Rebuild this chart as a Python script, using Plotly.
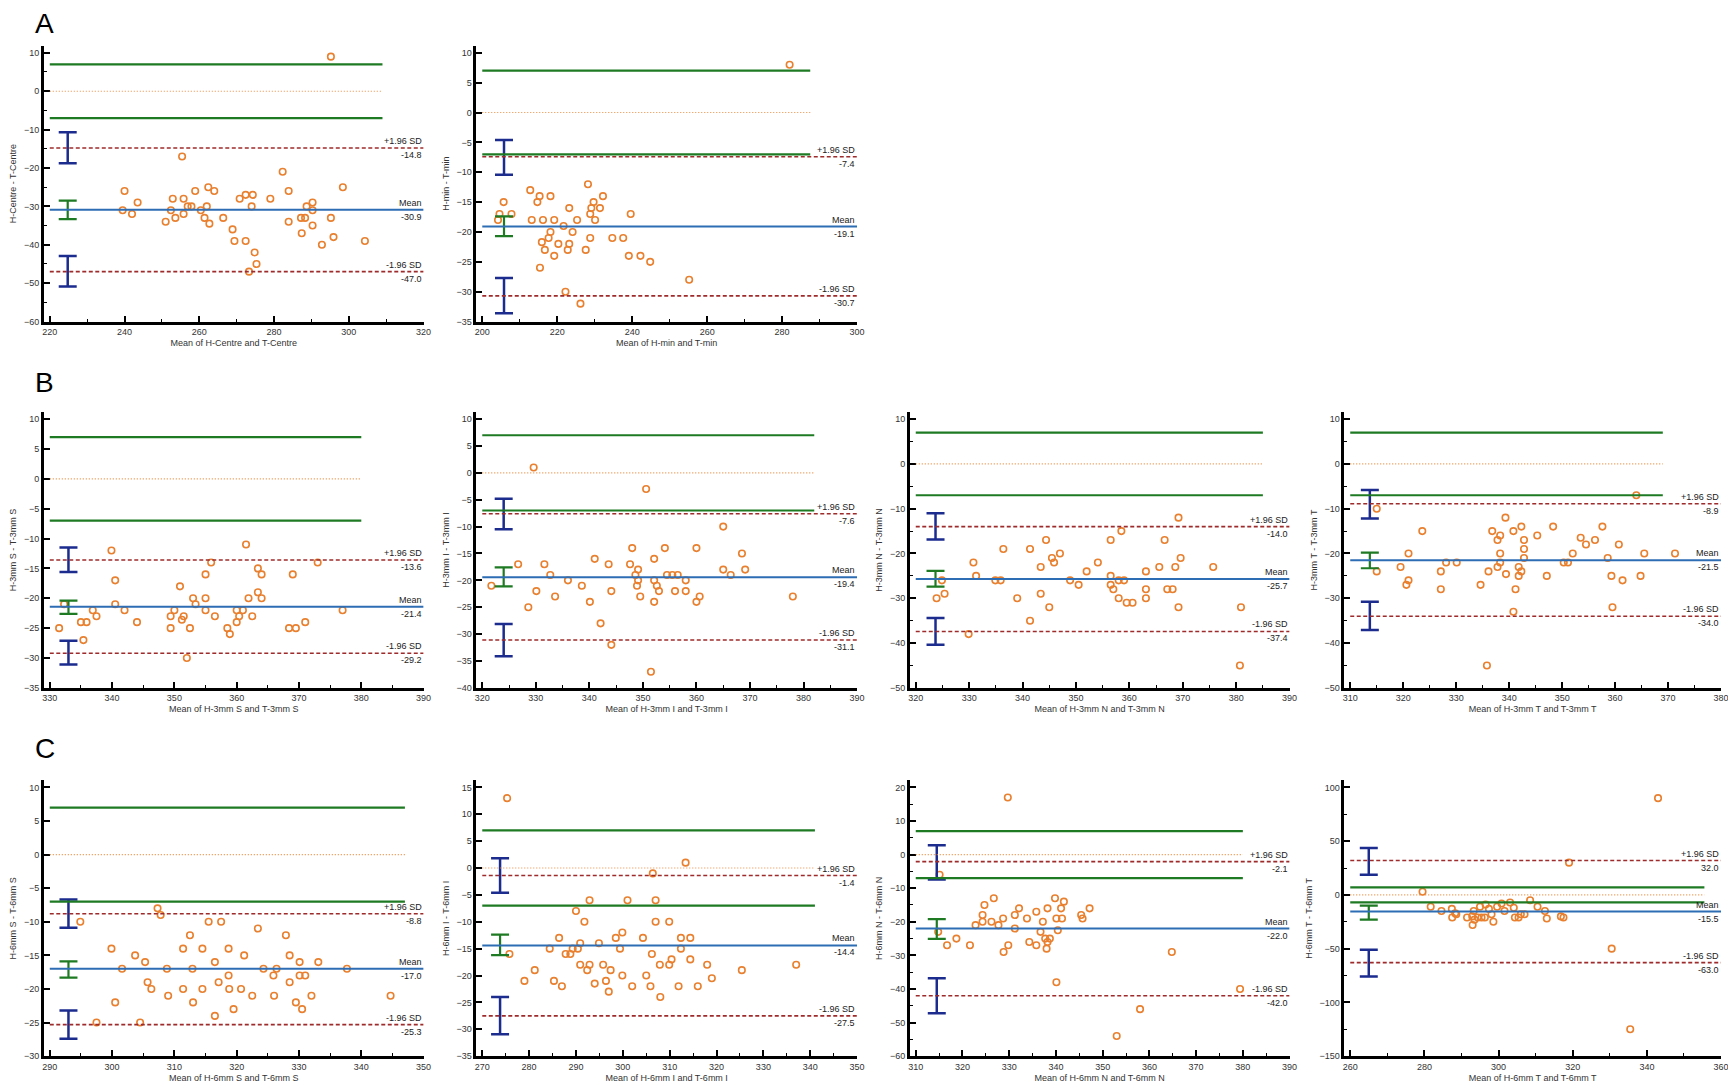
import plotly.graph_objects as go

# ---------------- data ----------------
names = ["Centre", "min", "3mm S", "3mm I", "3mm N", "3mm T",
         "6mm S", "6mm I", "6mm N", "6mm T"]
panel_letters = ["A", "B", "C"]

a1_mean = [295.2, 239.5, 240.0, 242.0, 243.5, 251.0, 252.4, 252.9, 253.6, 255.4,
           255.8, 255.8, 256.9, 257.9, 258.9, 260.4, 261.4, 262.0, 262.4, 262.7,
           264.0, 266.4, 268.9, 269.4, 270.8, 272.4, 272.4, 274.0, 274.3, 274.8,
           275.3, 273.3, 279.0, 282.3, 283.9, 283.9, 287.2, 288.3, 287.4, 288.7,
           290.3, 290.3, 290.3, 292.8, 295.2, 295.9, 298.4, 304.3]
a1_diff = [9, -31, -26, -32, -29, -34, -31, -28, -33, -17,
           -28, -32, -30, -30, -26, -31, -33, -30, -25, -34.5,
           -26, -33, -36, -39, -28, -27, -39, -30, -27, -42,
           -45, -47, -28, -21, -26, -34, -33, -33, -37, -30,
           -29, -31, -35, -40, -33, -38, -25, -39]

a2_mean = [282, 204.2, 204.6, 205.7, 207.8, 212.8, 213.2, 214.7, 215.3, 215.9,
           216.2, 216.7, 215.4, 217.7, 218.2, 218.2, 219.2, 219.2, 220.3, 221.7,
           222.2, 222.8, 223.2, 223.2, 224.1, 225.3, 226.2, 227.6, 228.2, 228.8,
           229.1, 228.8, 229.7, 230.1, 231.4, 232.2, 234.7, 237.6, 239.1, 239.6,
           242.2, 244.8, 255.2]
a2_diff = [8, -18, -17, -15, -17, -13, -18, -15, -14, -21.7,
           -18, -23, -26, -21, -20, -14, -18, -24, -22, -19,
           -30, -23, -16, -22, -20, -18, -32, -23, -12, -17,
           -16, -21, -15, -18, -16, -14, -21, -21, -24, -17,
           -24, -25, -28]

b1_mean = [331.5, 332.3, 335.0, 335.9, 335.4, 336.9, 337.5, 339.9, 340.5, 340.5,
           342.0, 344.0, 349.4, 349.4, 350.0, 350.9, 351.2, 351.5, 352.0, 352.5,
           353.0, 353.4, 355.0, 355.0, 355.0, 355.9, 356.5, 358.5, 358.9, 360.0,
           360.0, 360.4, 361.0, 361.5, 361.9, 362.5, 363.4, 363.4, 364.0, 364.0,
           368.4, 369.5, 369.0, 371.0, 373.0, 377.0]
b1_diff = [-25, -21, -24, -24, -27, -22, -23, -12, -17, -21,
           -22, -24, -23, -25, -22, -18, -23.6, -23, -30, -25,
           -20, -21, -16, -20, -22, -14, -23, -25, -26, -22,
           -24, -23, -22, -11, -20, -23, -15, -19, -16, -20,
           -25, -25, -16, -24, -14, -22]

b2_mean = [321.7, 326.7, 328.6, 329.6, 330.1, 331.6, 332.7, 333.6, 336.0, 338.6,
           340.1, 341.0, 342.1, 343.6, 344.1, 344.1, 347.6, 348.0, 348.6, 349.1,
           349.1, 348.9, 349.5, 350.6, 352.1, 352.1, 352.1, 352.6, 353.0, 354.1,
           354.5, 355.5, 356.0, 356.5, 358.0, 358.0, 360.0, 360.0, 360.6, 365.0,
           365.0, 366.4, 368.5, 369.1, 378.0, 351.5]
b2_diff = [-21, -17, -25, 1, -22, -17, -19, -23, -20, -21,
           -24, -16, -28, -17, -22, -32, -17, -14, -19, -18,
           -20, -21, -23, -3, -16, -20, -24, -21, -22, -14,
           -19, -19, -22, -19, -20, -22, -14, -24, -23, -10,
           -18, -19, -15, -18, -23, -37]

b3_mean = [323.9, 324.9, 325.4, 329.9, 330.8, 331.3, 334.9, 335.9, 336.4, 339.0,
           341.4, 341.4, 343.4, 343.4, 344.4, 345.0, 345.5, 345.9, 347.0, 348.9,
           350.5, 352.0, 354.1, 356.5, 356.5, 356.5, 357.0, 358.0, 358.0, 358.5,
           359.0, 359.5, 360.6, 363.1, 363.1, 363.1, 365.6, 366.6, 367.1, 368.1,
           368.6, 369.2, 369.2, 369.6, 375.7, 380.9, 380.7]
b3_diff = [-30, -26, -29, -38, -22, -25, -26, -26, -19, -30,
           -19, -35, -23, -29, -17, -32, -21, -22, -20, -26,
           -27, -24, -22, -17, -25, -27, -28, -26, -30, -15,
           -26, -31, -31, -24, -28, -30, -23, -17, -28, -28,
           -23, -12, -32, -21, -23, -32, -45]

b4_mean = [315.0, 315.0, 319.5, 321.0, 321.0, 320.6, 323.6, 327.1, 327.1, 328.1,
           330.1, 334.6, 336.1, 336.8, 337.8, 337.8, 338.3, 338.3, 338.3, 339.3,
           339.4, 340.8, 340.8, 341.2, 341.8, 341.8, 342.3, 342.3, 342.8, 342.8,
           342.8, 345.3, 347.1, 348.3, 350.3, 351.1, 335.8, 352.0, 353.5, 354.5,
           356.2, 357.6, 358.6, 359.3, 359.5, 360.7, 361.4, 364.0, 364.8, 365.5,
           371.3]
b4_diff = [-10, -24, -23, -20, -26, -27, -15, -24, -28, -22,
           -22, -27, -24, -15, -17, -23, -16, -20, -22, -12,
           -24.6, -15, -33, -28, -23, -25, -14, -24, -17, -19,
           -21, -16, -25, -14, -22, -22, -45, -20, -16.5, -18,
           -17, -14, -21, -25, -32, -18, -26, -7, -25, -20,
           -20]

c1_mean = [294.9, 299.9, 301.6, 303.7, 305.3, 305.7, 306.3, 307.3, 307.8, 308.8,
           311.4, 311.4, 312.5, 312.9, 314.5, 314.5, 315.5, 316.5, 317.1, 317.5,
           318.7, 318.7, 318.8, 320.7, 321.2, 323.4, 324.3, 325.9, 326.4, 327.9,
           328.5, 328.5, 330.1, 330.1, 331.0, 333.1, 337.7, 344.7, 297.5, 300.5,
           304.5, 309.0, 313.0, 316.5, 319.5, 322.5, 326.0, 329.5, 330.5, 332.0]
c1_diff = [-10, -14, -17, -15, -16, -19, -20, -8, -9, -17,
           -14, -20, -12, -17, -14, -20, -10, -16, -19, -10,
           -14, -18, -20, -20, -15, -11, -17, -18, -17, -12,
           -15, -19, -16, -18, -18, -16, -17, -21, -25, -22,
           -25, -21, -22, -24, -23, -21, -21, -22, -23, -21]

c2_mean = [275.3, 275.8, 281.2, 284.4, 285.3, 286.4, 287.8, 288.8, 289.3, 290.0,
           290.4, 290.9, 290.9, 291.8, 292.4, 292.9, 292.9, 294.9, 295.8, 296.4,
           297.4, 298.5, 299.4, 299.9, 299.9, 301.0, 304.3, 305.0, 305.9, 306.2,
           306.4, 307.0, 307.0, 307.9, 309.9, 309.9, 310.4, 311.9, 312.4, 312.4,
           313.4, 314.4, 314.4, 318.0, 325.4, 308.0, 279.0, 287.0, 294.0, 297.0,
           302.0, 316.0, 319.0, 337.0]
c2_diff = [13, -16, -19, -15, -21, -13, -16, -16, -15, -8,
           -15, -14, -18, -10, -19, -6, -18, -14, -18, -21,
           -19, -13, -15, -12, -20, -6, -13, -20, -22, -16,
           -1, -6, -10, -18, -10, -18, -17, -22, -13, -15,
           1, -13, -17, -18, -19, -24, -21, -22, -21.5, -23,
           -22, -22, -20.5, -18]

c3_mean = [329.7, 315.1, 314.8, 316.7, 318.7, 321.6, 322.8, 324.3, 324.7, 324.3,
           326.2, 326.7, 327.7, 328.7, 328.8, 329.8, 331.2, 331.2, 332.1, 333.8,
           334.3, 335.8, 335.8, 336.7, 337.2, 337.7, 338.0, 338.2, 338.2, 338.7,
           339.8, 340.1, 340.1, 340.4, 341.1, 341.3, 341.7, 347.2, 345.4, 345.7,
           364.8, 379.4, 358.0, 353.0]
c3_diff = [17, -6, -23, -27, -25, -27, -21, -18, -15, -20,
           -20, -13, -21, -19, -29, -27, -18, -22, -16, -19,
           -26, -17, -27, -23, -20, -25, -28, -26, -16, -25,
           -13, -19, -38, -22.5, -16, -19, -14, -16, -18, -19,
           -29, -40, -46, -54]

c4_mean = [279.5, 281.7, 284.6, 287.4, 287.5, 288.3, 288.6, 291.5, 292.9, 293.0,
           293.3, 293.5, 294.4, 295.0, 295.4, 296.3, 296.5, 297.4, 298.1, 298.6,
           299.6, 300.8, 301.6, 303.1, 304.1, 304.4, 305.4, 306.0, 307.0, 308.5,
           310.5, 312.5, 313.0, 316.8, 317.5, 319.0, 330.5, 335.5, 343.0]
c4_diff = [3, -11, -15, -13, -21, -17, -18, -21, -20, -28,
           -15, -23, -21, -11, -21, -21, -9, -13, -18, -25,
           -11, -8, -15, -7, -12, -21, -21, -18, -18, -5,
           -11, -15, -22, -20, -21, 30, -50, -125, 90]

mean_values = [a1_mean, a2_mean, b1_mean, b2_mean, b3_mean, b4_mean,
               c1_mean, c2_mean, c3_mean, c4_mean]
diff_values = [a1_diff, a2_diff, b1_diff, b2_diff, b3_diff, b4_diff,
               c1_diff, c2_diff, c3_diff, c4_diff]

# Bland-Altman statistics
bias = [-30.9, -19.1, -21.4, -19.4, -25.7, -21.5, -17.0, -14.4, -22.0, -15.5]
upper_loa = [-14.8, -7.4, -13.6, -7.6, -14.0, -8.9, -8.8, -1.4, -2.1, 32.0]
lower_loa = [-47.0, -30.7, -29.2, -31.1, -37.4, -34.0, -25.3, -27.5, -42.0, -63.0]
upper_ci = [(-18.8, -10.7), (-10.4, -4.6), (-15.6, -11.5), (-10.5, -4.8), (-16.9, -11.0),
            (-12.2, -5.8), (-10.9, -6.7), (-4.6, 1.8), (-7.4, 2.8), (18.7, 43.6)]
bias_ci = [(-33.3, -28.5), (-20.7, -17.4), (-22.6, -20.4), (-21.1, -17.6), (-27.4, -23.9),
           (-23.3, -19.8), (-18.3, -15.9), (-16.2, -12.4), (-25.1, -19.2), (-23.0, -10.0)]
lower_ci = [(-50.9, -42.9), (-33.6, -27.7), (-31.1, -27.1), (-34.1, -28.1), (-40.4, -34.4),
            (-37.1, -30.8), (-27.4, -23.2), (-30.9, -24.0), (-47.2, -36.8), (-76.0, -51.1)]
ci_x = [224.8, 205.8, 333.0, 324.0, 323.7, 313.7, 293.0, 273.8, 314.5, 265.0]
agree_limit = 7
agree_end = [309, 287.5, 380, 382, 385, 369, 347, 341, 380, 355.5]

# axes
x_ranges = [(220, 320), (200, 300), (330, 390), (320, 390), (320, 390), (310, 380),
            (290, 350), (270, 350), (310, 390), (260, 360)]
y_ranges = [(-60, 10), (-35, 10), (-35, 10), (-40, 10), (-50, 10), (-50, 10),
            (-30, 10), (-35, 15), (-60, 20), (-150, 100)]
x_dtick = [20, 20, 10, 10, 10, 10, 10, 10, 10, 20]
y_dtick = [10, 5, 5, 5, 10, 10, 5, 5, 10, 50]
panel_row = [0, 0, 1, 1, 1, 1, 2, 2, 2, 2]
panel_col = [0, 1, 0, 1, 2, 3, 0, 1, 2, 3]

# ---------------- figure ----------------
W, H = 1736, 1090
col_px = [(40, 416), (475, 852), (911, 1287), (1348, 1721)]
row_px = [(45, 315), (413, 683), (783, 1053)]
letter_y = [16, 376, 744]
XPAD, YPAD = 6, 7

FONT = "Arial, Liberation Sans, sans-serif"
ORANGE = "#E8802F"
GREEN = "#1F7A24"
BLUE = "#2D6DB4"
RED = "#9E2B2B"
NAVY = "#1B2B8E"

fig = go.Figure()
layout = dict(width=W, height=H, margin=dict(l=0, r=0, t=0, b=0),
              paper_bgcolor="white", plot_bgcolor="white", showlegend=False,
              font=dict(family=FONT, size=9, color="#333333"))
shapes, annotations = [], []

for i in range(10):
    n = "" if i == 0 else str(i + 1)
    xa, ya = "x" + n, "y" + n
    c0, c1 = col_px[panel_col[i]]
    r0, r1 = row_px[panel_row[i]]
    xlo, xhi = x_ranges[i]
    ylo, yhi = y_ranges[i]

    axis_style = dict(showline=True, linecolor="black", linewidth=2.5, showgrid=False,
                      zeroline=False, ticks="inside", ticklen=6, tickwidth=1.5,
                      tickcolor="black", tickfont=dict(size=9, color="#333333"))
    x_minor = dict(ticks="inside", ticklen=3, tickwidth=1, tickcolor="black",
                   dtick=x_dtick[i] / 2, tick0=xlo)
    layout["xaxis" + n] = dict(
        axis_style, anchor=ya,
        domain=[(c0 - XPAD) / W, c1 / W],
        range=[xlo - XPAD * (xhi - xlo) / (c1 - c0), xhi],
        tick0=xlo, dtick=x_dtick[i], minor=x_minor,
        title=dict(text="Mean of H-%s and T-%s" % (names[i], names[i]),
                   font=dict(size=9, color="#333333"), standoff=4))
    yax = dict(
        axis_style, anchor=xa,
        domain=[1 - r1 / H, 1 - (r0 - YPAD) / H],
        range=[ylo, yhi + YPAD * (yhi - ylo) / (r1 - r0)],
        tick0=ylo, dtick=y_dtick[i],
        title=dict(text="H-%s - T-%s" % (names[i], names[i]),
                   font=dict(size=9, color="#333333"), standoff=6))
    if y_dtick[i] in (10, 50):
        yax["minor"] = dict(ticks="inside", ticklen=3, tickwidth=1, tickcolor="black",
                            dtick=y_dtick[i] / 2, tick0=ylo)
    layout["yaxis" + n] = yax

    # clinical agreement limits and zero line
    for yv in (agree_limit, -agree_limit):
        shapes.append(dict(type="line", xref=xa, yref=ya, x0=xlo, x1=agree_end[i],
                           y0=yv, y1=yv, line=dict(color=GREEN, width=2.2)))
    shapes.append(dict(type="line", xref=xa, yref=ya, x0=xlo, x1=agree_end[i],
                       y0=0, y1=0, line=dict(color="#EE8A3C", width=1.1, dash="1px,2px")))
    # bias and limits of agreement
    shapes.append(dict(type="line", xref=xa, yref=ya, x0=xlo, x1=xhi,
                       y0=bias[i], y1=bias[i], line=dict(color=BLUE, width=2)))
    for yv in (upper_loa[i], lower_loa[i]):
        shapes.append(dict(type="line", xref=xa, yref=ya, x0=xlo, x1=xhi,
                           y0=yv, y1=yv, line=dict(color=RED, width=1.6, dash="4px,2.5px")))

    for top, yv in (("+1.96 SD", upper_loa[i]), ("Mean", bias[i]), ("-1.96 SD", lower_loa[i])):
        annotations.append(dict(xref=xa, yref=ya, x=xhi, y=yv, text=top, showarrow=False,
                                xanchor="right", yanchor="bottom", yshift=0,
                                font=dict(size=9, color="#222222")))
        annotations.append(dict(xref=xa, yref=ya, x=xhi, y=yv, text="%.1f" % yv,
                                showarrow=False, xanchor="right", yanchor="top", yshift=0,
                                font=dict(size=9, color="#222222")))

    # data points
    fig.add_trace(go.Scatter(
        x=mean_values[i], y=diff_values[i], mode="markers", xaxis=xa, yaxis=ya,
        marker=dict(symbol="circle-open", size=6.5, color=ORANGE, line=dict(width=1.6))))

    # confidence intervals of limits (blue) and bias (green)
    lims = [upper_loa[i], lower_loa[i]]
    cis = [upper_ci[i], lower_ci[i]]
    fig.add_trace(go.Scatter(
        x=[ci_x[i]] * 2, y=lims, mode="markers", xaxis=xa, yaxis=ya,
        marker=dict(size=1, color="rgba(0,0,0,0)"),
        error_y=dict(type="data", symmetric=False,
                     array=[c[1] - v for c, v in zip(cis, lims)],
                     arrayminus=[v - c[0] for c, v in zip(cis, lims)],
                     color=NAVY, thickness=2.5, width=9)))
    fig.add_trace(go.Scatter(
        x=[ci_x[i]], y=[bias[i]], mode="markers", xaxis=xa, yaxis=ya,
        marker=dict(size=1, color="rgba(0,0,0,0)"),
        error_y=dict(type="data", symmetric=False,
                     array=[bias_ci[i][1] - bias[i]], arrayminus=[bias[i] - bias_ci[i][0]],
                     color=GREEN, thickness=2.2, width=9)))

for k, letter in enumerate(panel_letters):
    annotations.append(dict(xref="paper", yref="paper", x=23 / W, y=1 - letter_y[k] / H,
                            text=letter, showarrow=False, xanchor="left", yanchor="middle",
                            font=dict(size=28, color="black", family=FONT)))

layout["shapes"] = shapes
layout["annotations"] = annotations
fig.update_layout(layout)

fig.write_html("out.html")
